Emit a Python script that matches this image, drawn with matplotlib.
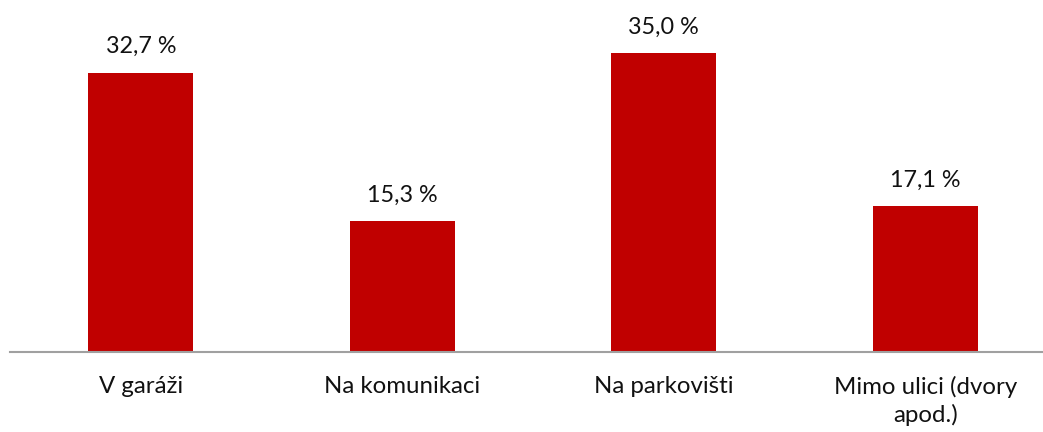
import matplotlib.pyplot as plt
import numpy as np

categories = ["V garáži", "Na komunikaci", "Na parkovišti", "Mimo ulici (dvory\napod.)"]
values = [32.7, 15.3, 35.0, 17.1]
value_labels = ["32,7 %", "15,3 %", "35,0 %", "17,1 %"]

plt.rcParams["font.family"] = ["Lato", "DejaVu Sans"]

W, H = 1043, 432
fig = plt.figure(figsize=(W / 100, H / 100), dpi=100)
# axes: baseline at y=352 px, categories spaced ~261.5 px starting at x=10
ax = fig.add_axes([10 / W, (H - 352) / H, 1046 / W, 352 / H])

x = np.arange(len(categories))
ax.bar(x, values, width=0.4, color="#C00000", zorder=2)

for xi, v, lab in zip(x, values, value_labels):
    ax.annotate(lab, (xi, v), xytext=(0, 11), textcoords="offset points",
                ha="center", va="bottom", fontsize=16.8, color="#111111")

ax.set_xlim(-0.5, 3.5)
ax.set_ylim(0, 41.2)
ax.set_xticks(x)
ax.set_xticklabels(categories, fontsize=17.3, color="#111111", linespacing=1.32)
ax.tick_params(axis="x", length=0, pad=17)
ax.set_yticks([])

for side in ["top", "right", "left"]:
    ax.spines[side].set_visible(False)
ax.spines["bottom"].set_color("#A0A0A0")
ax.spines["bottom"].set_linewidth(1.5)
ax.spines["bottom"].set_zorder(3)

fig.savefig("out.png", dpi=100)
